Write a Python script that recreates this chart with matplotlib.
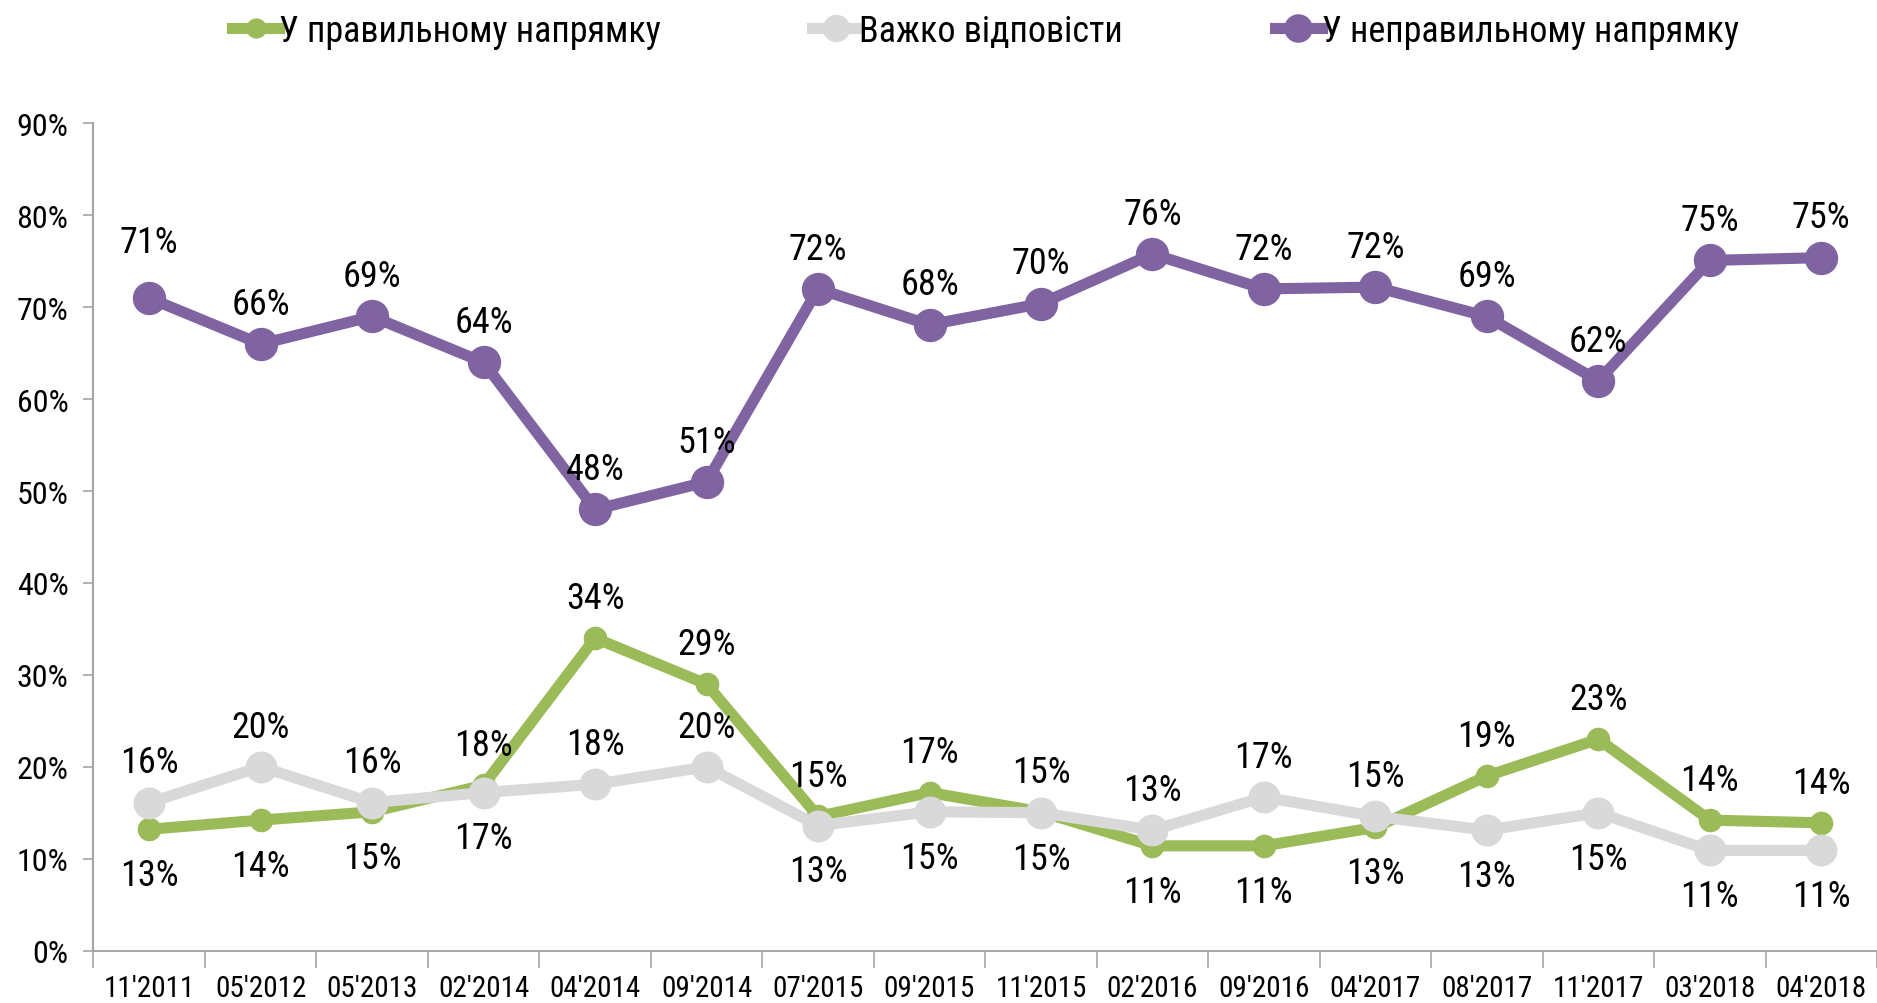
import numpy as np
import matplotlib
matplotlib.use('Agg')
import matplotlib.pyplot as plt
from matplotlib.ticker import FixedLocator, PercentFormatter

plt.rcParams['font.family'] = ['Roboto Condensed', 'DejaVu Sans']

# === Data ===
periods = ["11'2011", "05'2012", "05'2013", "02'2014", "04'2014", "09'2014", "07'2015", "09'2015",
           "11'2015", "02'2016", "09'2016", "04'2017", "08'2017", "11'2017", "03'2018", "04'2018"]
right_dir = [13.2, 14.2, 15.1, 18.0, 34.0, 29.0, 14.6, 17.2, 15.1, 11.4, 11.4, 13.4, 19.0, 23.0, 14.2, 13.9]
hard_to_say = [16.1, 20.0, 16.1, 17.2, 18.1, 20.0, 13.6, 15.1, 15.0, 13.1, 16.7, 14.6, 13.1, 15.0, 10.9, 10.9]
wrong_dir = [71.0, 66.0, 69.0, 64.0, 48.0, 51.0, 72.0, 68.1, 70.4, 75.8, 72.0, 72.2, 69.0, 62.0, 75.1, 75.4]

right_labels = ['13%', '14%', '15%', '18%', '34%', '29%', '15%', '17%', '15%', '11%', '11%', '13%', '19%', '23%', '14%', '14%']
hard_labels = ['16%', '20%', '16%', '17%', '18%', '20%', '13%', '15%', '15%', '13%', '17%', '15%', '13%', '15%', '11%', '11%']
wrong_labels = ['71%', '66%', '69%', '64%', '48%', '51%', '72%', '68%', '70%', '76%', '72%', '72%', '69%', '62%', '75%', '75%']

# label above (+1) or below (-1) the point
right_side = [-1, -1, -1, 1, 1, 1, 1, 1, 1, -1, -1, -1, 1, 1, 1, 1]
hard_side = [1, 1, 1, -1, 1, 1, -1, -1, -1, 1, 1, 1, -1, -1, -1, -1]
wrong_side = [1.4, 1, 1, 1, 1, 1, 1, 1, 1, 1, 1, 1, 1, 1, 1, 1]

names = ['У правильному напрямку', 'Важко відповісти', 'У неправильному напрямку']
GREEN = '#9BBB59'; GRAY = '#D9D9D9'; PURPLE = '#8064A2'

# === Plot ===
fig = plt.figure(figsize=(18.77, 10.04), dpi=100)
ax = fig.add_axes([0.0498, 0.0522, 0.9502, 0.8238])
x = np.arange(len(periods))

series = [
    (right_dir, right_labels, right_side, GREEN, 16, 2),
    (hard_to_say, hard_labels, hard_side, GRAY, 22, 3),
    (wrong_dir, wrong_labels, wrong_side, PURPLE, 23, 4),
]
for (vals, labs, side, col, ms, z), name in zip(series, names):
    ax.plot(x, vals, color=col, lw=8, marker='o', ms=ms, mec=col, mfc=col,
            solid_joinstyle='miter', zorder=z, label=name)
    for xi, v, lab, s in zip(x, vals, labs, side):
        dy = 29 * s if s > 0 else 33 * s
        ax.annotate(lab, (xi, v), xytext=(0, dy), textcoords='offset points',
                    ha='center', va='center', fontsize=26, color='black', zorder=6)

ax.set_xlim(-0.5, len(periods) - 0.5)
ax.set_ylim(0, 90)
ax.yaxis.set_major_locator(FixedLocator(np.arange(0, 91, 10)))
ax.yaxis.set_major_formatter(PercentFormatter(decimals=0))
ax.set_xticks(x)
ax.set_xticklabels(periods)
ax.xaxis.set_minor_locator(FixedLocator(np.arange(-0.5, len(periods), 1.0)))

for s in ['top', 'right']:
    ax.spines[s].set_visible(False)
for s in ['left', 'bottom']:
    ax.spines[s].set_color('#A6A6A6')
    ax.spines[s].set_linewidth(1.5)

ax.tick_params(axis='y', length=7, width=1.2, color='#A6A6A6', labelsize=23, pad=11)
ax.tick_params(axis='x', which='major', length=0, labelsize=21, pad=17)
ax.tick_params(axis='x', which='minor', length=12, width=1.2, color='#A6A6A6')

fig.legend(loc='center', bbox_to_anchor=(0.525, 0.968), ncol=3, frameon=False,
           fontsize=26, handlelength=1.3, handletextpad=0.0, columnspacing=4.2,
           markerscale=0.85)

plt.savefig('out.png', dpi=100)
